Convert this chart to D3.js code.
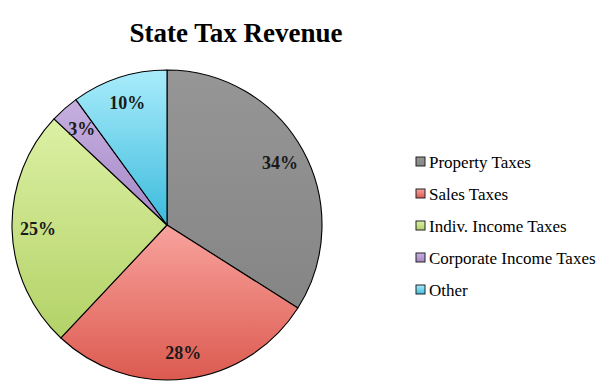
<!DOCTYPE html>
<html><head><meta charset="utf-8">
<script src="https://cdn.jsdelivr.net/npm/d3@7"></script>
<style>body{margin:0;background:#fff}svg{display:block}</style>
</head><body>
<script>
const categories = ["Property Taxes","Sales Taxes","Indiv. Income Taxes","Corporate Income Taxes","Other"];
const values = [34, 28, 25, 3, 10];
const labels = ["34%","28%","25%","3%","10%"];
const colorsTop = ["#969696","#f8a39d","#dcf0a4","#c6b0e0","#a9ecfb"];
const colorsBottom = ["#858585","#dc5a50","#b3d267","#a587c6","#3cbbdd"];
const title = "State Tax Revenue";

const W = 601, H = 391;
const svg = d3.select("body").append("svg").attr("width", W).attr("height", H);
const defs = svg.append("defs");
categories.forEach((c, i) => {
  const g = defs.append("linearGradient").attr("id", "g" + i)
    .attr("x1", 0).attr("y1", 0).attr("x2", 0).attr("y2", 1);
  g.append("stop").attr("offset", "0%").attr("stop-color", colorsTop[i]);
  g.append("stop").attr("offset", "100%").attr("stop-color", colorsBottom[i]);
});

svg.append("text").attr("x", 236).attr("y", 42).attr("text-anchor", "middle")
  .attr("font-family", "'Liberation Serif', 'DejaVu Serif', serif")
  .attr("font-weight", "bold").attr("font-size", 27).attr("fill", "#000").text(title);

const cx = 167, cy = 225, R = 155;
const pie = d3.pie().sort(null).value(d => d)(values);
const arc = d3.arc().innerRadius(0).outerRadius(R);
const labelArc = d3.arc().innerRadius(129).outerRadius(129);
const g = svg.append("g").attr("transform", `translate(${cx},${cy})`);
g.selectAll("path").data(pie).join("path")
  .attr("d", arc).attr("fill", (d, i) => `url(#g${i})`)
  .attr("stroke", "#000").attr("stroke-width", 1.1).attr("stroke-linejoin", "round");
g.selectAll("text").data(pie).join("text")
  .attr("transform", d => `translate(${labelArc.centroid(d)})`)
  .attr("text-anchor", "middle").attr("dy", "0.35em")
  .attr("font-family", "'Liberation Serif', 'DejaVu Serif', serif")
  .attr("font-weight", "bold").attr("font-size", 18).attr("fill", "#1a1a1a")
  .text((d, i) => labels[i]);

const leg = svg.append("g").attr("transform", "translate(416,162)");
const y = d3.scalePoint().domain(categories).range([0, 128]);
const items = leg.selectAll("g").data(categories).join("g")
  .attr("transform", d => `translate(0,${y(d)})`);
items.append("rect").attr("x", 0).attr("y", -5).attr("width", 9).attr("height", 9)
  .attr("fill", (d, i) => `url(#g${i})`).attr("stroke", "#222").attr("stroke-width", 1);
items.append("text").attr("x", 13).attr("y", 0).attr("dy", "0.35em")
  .attr("font-family", "'Liberation Serif', 'DejaVu Serif', serif")
  .attr("font-size", 17).attr("fill", "#000").text(d => d);
</script>
</body></html>
